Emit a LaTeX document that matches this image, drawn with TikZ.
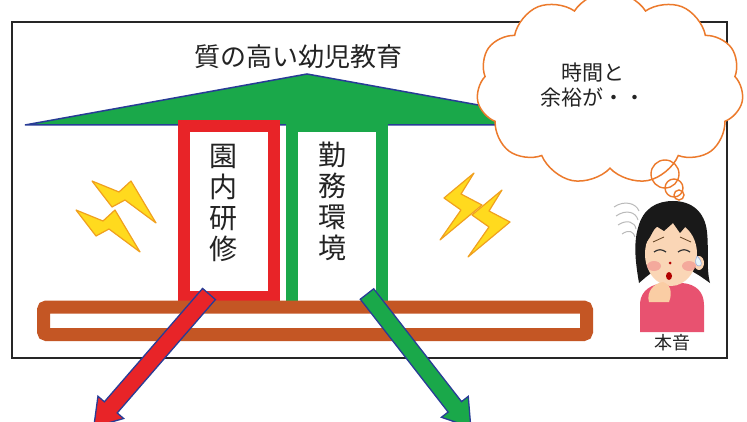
\documentclass[tikz,border=0pt]{standalone}
\usepackage{fontspec}
\newfontfamily\jp{Noto Sans CJK JP}
\usetikzlibrary{shapes.symbols,calc}

\definecolor{roofgreen}{RGB}{26,168,74}
\definecolor{edgeblue}{RGB}{40,60,150}
\definecolor{boxred}{RGB}{232,36,40}
\definecolor{beambrown}{RGB}{196,86,36}
\definecolor{cloudorange}{RGB}{236,122,44}
\definecolor{boltyellow}{RGB}{255,218,30}
\definecolor{boltedge}{RGB}{240,160,30}
\definecolor{skin}{RGB}{250,214,182}
\definecolor{shirtpink}{RGB}{232,82,112}
\definecolor{blush}{RGB}{240,140,140}
\definecolor{inktext}{RGB}{35,35,35}

\tikzset{
  jptext/.style={font=\jp\fontsize{#1}{#1}\selectfont, text=inktext, inner sep=0pt},
  vtext/.style={font=\jp\fontsize{28}{31}\selectfont, text=inktext, inner sep=0pt, align=center},
  bigarrow/.style={line width=1.3pt, draw=edgeblue, line join=miter},
  boltshape/.style={fill=boltyellow, draw=boltedge, line width=1.2pt, line join=round},
}

\begin{document}
\begin{tikzpicture}[x=1pt,y=-1pt]
\useasboundingbox (0,0) rectangle (747,422);
\fill[white] (0,0) rectangle (747,422);

% outer frame
\draw[black!85, line width=1.6pt] (12,22) rectangle (727,358);

% roof
\filldraw[fill=roofgreen, draw=edgeblue, line width=1.5pt, line join=miter]
  (25,125) -- (307,74) -- (589,125) -- cycle;

% green pillar frame (勤務環境)
\fill[roofgreen] (286,121) rectangle (388,132);
\fill[roofgreen] (286,121) rectangle (298,302);
\fill[roofgreen] (376,121) rectangle (388,302);

% red pillar frame (園内研修)
\draw[boxred, line width=12pt] (184,126) rectangle (274,297);

% foundation beam
\draw[beambrown, line width=13pt, rounded corners=3pt] (43.5,307) rectangle (586.5,334.5);

% red arrow
\begin{scope}[shift={(209,294)}, rotate=229.1]
  \filldraw[bigarrow, fill=boxred]
    (0,-8.5) -- (150,-8.5) -- (150,-17) -- (176,0) -- (150,17) -- (150,8.5) -- (0,8.5) -- cycle;
\end{scope}

% green arrow
\begin{scope}[shift={(367,294)}, rotate=-52.1]
  \filldraw[bigarrow, fill=roofgreen]
    (0,-8.5) -- (143,-8.5) -- (143,-17) -- (169,0) -- (143,17) -- (143,8.5) -- (0,8.5) -- cycle;
\end{scope}

% lightning, left pair
\foreach \dx/\dy in {0/0, -16/29}{
  \begin{scope}[shift={(\dx,\dy)}]
    \filldraw[boltshape] (92,181) -- (119,192) -- (131,181) -- (156,223) -- (125,200) -- (112,207) -- cycle;
  \end{scope}
}
% lightning, right pair
\foreach \dx/\dy in {0/0, 28/17}{
  \begin{scope}[shift={(\dx,\dy)}]
    \filldraw[boltshape] (474,173) -- (461,194) -- (482,205) -- (440,240) -- (461,210) -- (444,198) -- cycle;
  \end{scope}
}

% thought cloud
\node[cloud, draw=cloudorange, fill=white, line width=1.5pt, cloud puffs=11,
      cloud puff arc=115, aspect=1.4, minimum width=267pt, minimum height=193pt,
      inner sep=0pt] (cloud) at (610,88) {};
\node[jptext=21, align=center, font=\jp\fontsize{21}{25}\selectfont] (thought) at (593,85) {時間と\\余裕が・・};

% small thought bubbles
\draw[cloudorange, line width=1.4pt] (665,174) circle (14);
\draw[cloudorange, line width=1.4pt] (674,188) circle (9);
\draw[cloudorange, line width=1.4pt] (679,195) circle (5);

% girl: sigh swirls
\draw[gray!55, line width=1pt] (614,207) .. controls (624,200) and (636,203) .. (639,211);
\draw[gray!55, line width=1pt] (616,216) .. controls (626,209) and (636,212) .. (638,220);
\draw[gray!55, line width=1pt] (618,225) .. controls (627,219) and (635,222) .. (636,229);
\draw[gray!55, line width=1pt] (622,234) .. controls (629,229) and (634,232) .. (635,237);

% girl: hair
\fill[black!90] (639,283) .. controls (636,265) and (633,245) .. (638,228)
  .. controls (643,208) and (657,201) .. (673,201)
  .. controls (692,201) and (705,212) .. (707,232)
  .. controls (709,250) and (706,268) .. (710,283)
  -- (700,276) -- (690,270) -- (655,270) -- (646,277) -- cycle;
% shirt
\fill[shirtpink] (640,332) -- (640,303) .. controls (641,290) and (652,284) .. (664,283)
  -- (682,283) .. controls (696,284) and (704,292) .. (704,305) -- (704,332) -- cycle;
% face and ear
\fill[skin] (671,254) ellipse [x radius=26, y radius=32];
\fill[skin] (699,263) ellipse [x radius=5, y radius=7];
% bangs
\fill[black!90] (644,246) .. controls (642,222) and (652,207) .. (672,206)
  .. controls (692,206) and (702,222) .. (700,244)
  -- (694,232) -- (686,226) -- (680,233) -- (673,223) -- (664,231) -- (656,226) -- (650,237) -- cycle;
% features
\draw[brown!50!black, line width=0.8pt] (653,242) -- (664,237);
\draw[brown!50!black, line width=0.8pt] (680,237) -- (691,242);
\draw[black!80, line width=1.2pt] (654,252) .. controls (658,249) and (662,249) .. (666,252);
\draw[black!80, line width=1.2pt] (678,252) .. controls (682,249) and (686,249) .. (690,252);
\fill[blush, opacity=0.6] (654,266) ellipse [x radius=7, y radius=5];
\fill[blush, opacity=0.6] (689,266) ellipse [x radius=7, y radius=5];
\fill[red!70!black] (670,263) circle (1.5);
\fill[red!70!black] (669,276) ellipse [x radius=3, y radius=4];
\fill[cyan!10] (697,256) .. controls (694,262) and (696,266) .. (699,266) .. controls (702,266) and (703,262) .. (697,256);
\draw[cyan!40!blue!40, line width=0.6pt] (697,256) .. controls (694,262) and (696,266) .. (699,266) .. controls (702,266) and (703,262) .. (697,256);
% hand at the chin
\fill[skin!90!orange] (649,302) .. controls (646,292) and (654,283) .. (663,282)
  .. controls (670,284) and (673,292) .. (669,302) -- cycle;

\node[jptext=18] (honne) at (672,343) {本音};

% titles and pillar labels
\node[jptext=26] (title) at (298,57) {質の高い幼児教育};
\node[vtext] (enai) at (223,203) {園\\内\\研\\修};
\node[vtext] (kinmu) at (332,201) {勤\\務\\環\\境};
\end{tikzpicture}
\end{document}
